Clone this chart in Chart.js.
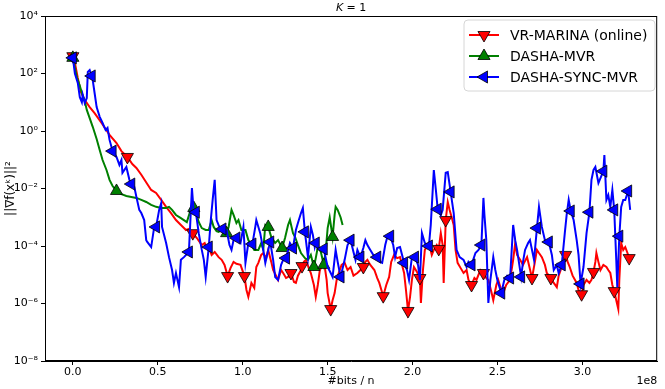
<!DOCTYPE html>
<html>
<head>
<meta charset="utf-8">
<script src="https://cdn.jsdelivr.net/npm/chart.js"></script>
<style>
  html, body { margin: 0; padding: 0; background: #fff; }
  #wrap { width: 665px; height: 389px; }
</style>
</head>
<body>
<div id="wrap"><canvas id="chart" width="665" height="389"></canvas></div>
<script>
// axis ticks (x in units of 1e8 bits / n)
const xTicks = [0, 0.5, 1.0, 1.5, 2.0, 2.5, 3.0];
const yTicks = [1e-8, 1e-6, 1e-4, 1e-2, 1e0, 1e2, 1e4];
const yTickLabels = ['10⁻⁸', '10⁻⁶', '10⁻⁴', '10⁻²', '10⁰', '10²', '10⁴'];
const seriesNames = ['VR-MARINA (online)', 'DASHA-MVR', 'DASHA-SYNC-MVR'];

// VR-MARINA (online)
const redX = [0, 0.012, 0.029, 0.047, 0.070, 0.099, 0.128, 0.169, 0.216, 0.257, 0.286, 0.321, 0.350, 0.374, 0.403, 0.438, 0.461, 0.490, 0.520, 0.549,
  0.578, 0.607, 0.636, 0.666, 0.683, 0.706, 0.730, 0.759, 0.776, 0.788, 0.806, 0.817, 0.835, 0.858, 0.876, 0.893, 0.911, 0.928, 0.946, 0.963,
  0.987, 1.010, 1.022, 1.033, 1.051, 1.068, 1.080, 1.092, 1.109, 1.121, 1.138, 1.150, 1.168, 1.179, 1.197, 1.208, 1.226, 1.238, 1.255, 1.267,
  1.284, 1.302, 1.313, 1.325, 1.343, 1.349, 1.360, 1.372, 1.389, 1.401, 1.419, 1.430, 1.442, 1.454, 1.471, 1.483, 1.494, 1.500, 1.518, 1.529,
  1.541, 1.553, 1.565, 1.582, 1.600, 1.617, 1.635, 1.652, 1.675, 1.693, 1.710, 1.722, 1.734, 1.751, 1.775, 1.792, 1.804, 1.827, 1.845, 1.862,
  1.874, 1.891, 1.909, 1.926, 1.938, 1.950, 1.961, 1.973, 1.985, 1.996, 2.008, 2.026, 2.043, 2.049, 2.061, 2.072, 2.096, 2.113, 2.125, 2.142,
  2.154, 2.166, 2.177, 2.183, 2.195, 2.207, 2.218, 2.230, 2.242, 2.253, 2.265, 2.283, 2.300, 2.318, 2.329, 2.347, 2.364, 2.376, 2.399, 2.417,
  2.434, 2.446, 2.464, 2.475, 2.493, 2.504, 2.522, 2.534, 2.551, 2.574, 2.592, 2.604, 2.615, 2.633, 2.650, 2.674, 2.685, 2.703, 2.720, 2.732,
  2.744, 2.761, 2.779, 2.790, 2.814, 2.831, 2.849, 2.860, 2.878, 2.901, 2.913, 2.925, 2.942, 2.966, 2.977, 2.995, 3.006, 3.024, 3.041, 3.053,
  3.065, 3.076, 3.082, 3.094, 3.106, 3.123, 3.141, 3.152, 3.164, 3.176, 3.187, 3.199, 3.211, 3.217, 3.228, 3.240, 3.252, 3.263, 3.275];
const redY = [400, 230, 70, 23, 12, 6.8, 4.2, 1.9, 0.73, 0.38, 0.20, 0.125, 0.071, 0.052, 0.030, 0.0143, 0.0089, 0.0070, 0.0040, 0.0023,
  0.0014, 8e-4, 5.4e-4, 3.6e-4, 3.9e-4, 2.8e-4, 1.9e-4, 1.08e-4, 1.27e-4, 8.5e-5, 7.3e-5, 4.9e-5, 6.2e-5, 4.1e-5, 3.3e-5, 2.2e-5, 9e-6, 1.7e-5, 2.8e-5, 2.4e-5,
  2.2e-5, 9e-6, 2.95e-6, 1.7e-6, 5.2e-6, 3.5e-6, 1.86e-5, 2.6e-5, 4.9e-5, 5.7e-5, 3.8e-5, 7.3e-5, 2.8e-5, 1.46e-5, 9e-6, 6.6e-6, 1.46e-5, 1.15e-5, 7.7e-6, 8.4e-6,
  1.15e-5, 5.6e-6, 5.2e-6, 9.3e-6, 1.46e-5, 2e-5, 2.8e-5, 3.3e-5, 1.7e-5, 1.15e-5, 4.4e-6, 1.7e-6, 4.4e-6, 1.46e-5, 2.2e-5, 1.86e-5, 6.6e-6, 2.3e-6, 6.4e-7, 1.3e-6,
  2.3e-6, 6.6e-6, 1.15e-5, 2.2e-5, 2.6e-5, 1.46e-5, 1.86e-5, 9.3e-6, 1.15e-5, 1.46e-5, 1.86e-5, 2.8e-5, 3.3e-5, 2.2e-5, 1.46e-5, 7.7e-6, 5.2e-6, 1.8e-6, 4.4e-6, 8.4e-6,
  2.8e-5, 4.9e-5, 3.8e-5, 4.1e-5, 2.2e-5, 1.15e-5, 2.95e-6, 5.5e-7, 1.7e-6, 6.6e-6, 1.86e-5, 1.25e-5, 7.7e-6, 1.04e-6, 1.46e-5, 7.3e-5, 1.27e-4, 4.9e-5, 7.3e-5, 1.08e-4,
  7.9e-5, 2.8e-4, 1.08e-4, 5.2e-6, 8e-4, 3.4e-3, 1.8e-3, 1e-3, 5.4e-4, 7.3e-5, 2.6e-5, 1.7e-5, 1.15e-5, 1.46e-5, 6.6e-6, 4.4e-6, 7.7e-6, 6.6e-6, 1.46e-5, 1.15e-5,
  7.7e-6, 6.6e-6, 2.5e-6, 1.3e-6, 4.4e-6, 6.6e-6, 2.95e-6, 2.3e-6, 4.4e-6, 6.6e-6, 3.3e-5, 1.27e-4, 4.9e-5, 3.3e-5, 2.2e-5, 4.1e-5, 2.2e-5, 7.7e-6, 2.8e-5, 7.3e-5,
  5.7e-5, 4.1e-5, 2.2e-5, 1.15e-5, 7.7e-6, 5.2e-6, 3.7e-6, 9.3e-6, 1.86e-5, 4.9e-5, 2.8e-5, 1.86e-5, 9.3e-6, 5.2e-6, 2.95e-6, 2.1e-6, 4.4e-6, 6.6e-6, 5.2e-6, 6.6e-6,
  1.25e-5, 2.8e-5, 5.7e-5, 2.8e-5, 1.46e-5, 2.2e-5, 1.86e-5, 1.46e-5, 1.15e-5, 4.4e-6, 2.7e-6, 1.3e-6, 6.4e-7, 6.6e-6, 1.27e-4, 7.3e-5, 9.2e-5, 6.2e-5, 3.8e-5];
const redMarkX = [0, 0.321, 0.706, 0.911, 1.010, 1.284, 1.349, 1.518, 1.710, 1.827, 1.973, 2.043, 2.154, 2.195, 2.347, 2.417,
  2.703, 2.814, 2.901, 2.995, 3.065, 3.187, 3.275];

// DASHA-MVR
const greenX = [0, 0.023, 0.041, 0.053, 0.070, 0.082, 0.099, 0.117, 0.140, 0.158, 0.175, 0.198, 0.216, 0.234, 0.257, 0.286, 0.315, 0.344, 0.374, 0.403,
  0.432, 0.461, 0.490, 0.520, 0.549, 0.566, 0.584, 0.607, 0.636, 0.671, 0.689, 0.701, 0.712, 0.724, 0.741, 0.759, 0.782, 0.800, 0.817, 0.829,
  0.846, 0.858, 0.876, 0.905, 0.917, 0.934, 0.946, 0.963, 0.975, 0.992, 1.016, 1.033, 1.051, 1.068, 1.092, 1.109, 1.121, 1.133, 1.150, 1.168,
  1.191, 1.208, 1.232, 1.249, 1.267, 1.278, 1.296, 1.308, 1.325, 1.343, 1.366, 1.384, 1.401, 1.419, 1.430, 1.442, 1.460, 1.477, 1.489, 1.500,
  1.512, 1.529, 1.541, 1.547, 1.559, 1.576, 1.588];
const greenY = [350, 75, 37, 21, 11, 5.4, 2.8, 1.4, 0.53, 0.22, 0.098, 0.044, 0.020, 0.0122, 0.0082, 0.0064, 0.0055, 0.0051, 0.0047, 0.0040,
  0.0034, 0.0027, 0.0023, 0.0021, 0.0021, 0.0023, 0.0018, 0.0012, 9.3e-4, 6.8e-4, 0.0015, 0.0031, 0.0021, 0.0015, 6.8e-4, 4.2e-4, 3.6e-4, 3.6e-4, 8e-4, 4.6e-4,
  3.3e-4, 3.1e-4, 3.6e-4, 2.8e-4, 4.6e-4, 0.0018, 0.0012, 6.3e-4, 8e-4, 3.6e-4, 3.6e-4, 1.6e-4, 1.08e-4, 7.3e-5, 7.3e-5, 1.27e-4, 7.3e-5, 5.4e-4, 4.6e-4, 2.06e-4,
  1.27e-4, 1.6e-4, 8.5e-5, 1.9e-4, 5.4e-4, 8e-4, 2.8e-4, 2.06e-4, 1.08e-4, 5.7e-5, 3.8e-5, 3.3e-5, 4.9e-5, 1.86e-5, 3.8e-5, 9.2e-5, 6.2e-5, 2.2e-5, 7.3e-5, 4.2e-4,
  1e-3, 2.06e-4, 1.2e-3, 2.3e-3, 1.8e-3, 1e-3, 5.4e-4];
const greenMarkX = [0, 0.257, 0.712, 0.905, 1.150, 1.232, 1.419, 1.477, 1.529];

// DASHA-SYNC-MVR
const blueX = [0, 0.012, 0.029, 0.041, 0.053, 0.058, 0.070, 0.082, 0.088, 0.099, 0.111, 0.117, 0.128, 0.140, 0.158, 0.175, 0.193, 0.204, 0.216, 0.234,
  0.257, 0.274, 0.286, 0.292, 0.315, 0.333, 0.344, 0.362, 0.374, 0.391, 0.403, 0.420, 0.432, 0.438, 0.461, 0.479, 0.490, 0.508, 0.520, 0.525,
  0.549, 0.566, 0.584, 0.595, 0.607, 0.625, 0.636, 0.654, 0.683, 0.701, 0.712, 0.724, 0.741, 0.759, 0.771, 0.782, 0.800, 0.812, 0.823, 0.835,
  0.846, 0.870, 0.881, 0.905, 0.922, 0.934, 0.946, 0.963, 0.987, 1.004, 1.016, 1.033, 1.045, 1.057, 1.074, 1.080, 1.103, 1.121, 1.133, 1.150,
  1.162, 1.179, 1.191, 1.208, 1.226, 1.238, 1.255, 1.278, 1.296, 1.313, 1.325, 1.343, 1.354, 1.366, 1.384, 1.401, 1.413, 1.424, 1.430, 1.454,
  1.477, 1.500, 1.518, 1.529, 1.547, 1.559, 1.576, 1.600, 1.617, 1.635, 1.652, 1.664, 1.675, 1.693, 1.710, 1.722, 1.734, 1.751, 1.769, 1.792,
  1.810, 1.821, 1.839, 1.851, 1.868, 1.886, 1.897, 1.909, 1.926, 1.950, 1.967, 1.979, 1.996, 2.014, 2.032, 2.043, 2.055, 2.072, 2.096, 2.107,
  2.113, 2.125, 2.137, 2.148, 2.166, 2.177, 2.195, 2.207, 2.224, 2.242, 2.259, 2.277, 2.300, 2.318, 2.329, 2.347, 2.370, 2.388, 2.405, 2.417,
  2.423, 2.434, 2.446, 2.458, 2.475, 2.487, 2.499, 2.522, 2.540, 2.557, 2.574, 2.592, 2.604, 2.615, 2.639, 2.650, 2.662, 2.680, 2.691, 2.715,
  2.732, 2.744, 2.761, 2.779, 2.802, 2.820, 2.831, 2.849, 2.860, 2.878, 2.896, 2.907, 2.919, 2.931, 2.948, 2.966, 2.977, 2.989, 3.006, 3.024,
  3.041, 3.053, 3.065, 3.076, 3.094, 3.106, 3.123, 3.129, 3.141, 3.152, 3.164, 3.176, 3.187, 3.199, 3.205, 3.217, 3.228, 3.240, 3.252, 3.269,
  3.281];
const blueY = [350, 100, 47, 15, 10, 18, 9.4, 14, 113, 132, 82, 59, 21, 6.8, 3.1, 1.9, 1.08, 1.27, 0.49, 0.20,
  0.125, 0.066, 0.098, 0.035, 0.056, 0.020, 0.0143, 0.0113, 0.0051, 0.0018, 0.0014, 8e-4, 1.6e-4, 1.38e-4, 9.2e-5, 4.6e-4, 4.6e-4, 0.0018, 0.0031, 4.6e-4,
  1.27e-4, 4.1e-5, 1.46e-5, 5.2e-6, 1.15e-5, 3.7e-6, 3.3e-5, 4.1e-5, 6.2e-5, 0.0104, 0.0014, 0.0015, 2.8e-4, 7.3e-5, 3.3e-5, 8.4e-6, 9.2e-5, 8e-4, 0.0040, 0.020,
  8e-4, 3.6e-4, 3.9e-4, 3.6e-4, 1.08e-4, 7.3e-5, 1.6e-4, 1.9e-4, 1.27e-4, 4.6e-4, 2.6e-5, 1.27e-4, 1.27e-4, 1.17e-4, 4.6e-4, 8e-4, 2.8e-4, 7.3e-5, 2.6e-5, 7.3e-5,
  1.38e-4, 3.3e-5, 8.4e-6, 6.6e-6, 2.2e-5, 3.3e-5, 3.8e-5, 1.27e-4, 8.5e-5, 3.6e-4, 6.3e-4, 1.4e-3, 2.1e-3, 3.1e-4, 4.1e-5, 4.6e-4, 2.4e-4, 9.2e-5, 1.27e-4, 7.3e-5,
  7.9e-5, 1.86e-5, 1.15e-5, 8.4e-6, 7.3e-5, 2.8e-5, 8.4e-6, 3.3e-5, 1.08e-4, 1.6e-4, 6.2e-5, 3.3e-5, 7.3e-5, 4.1e-5, 8.5e-5, 1.6e-4, 1.08e-4, 7.3e-5, 4.9e-5, 4.1e-5,
  2.8e-5, 2.6e-5, 1.08e-4, 2.06e-4, 2.2e-4, 1.08e-4, 4.1e-5, 8.5e-5, 9.2e-5, 2.6e-5, 1.46e-5, 6.6e-6, 4.1e-5, 4.1e-5, 2.2e-5, 6.6e-6, 2.8e-4, 1.27e-4, 1e-4, 5.4e-4,
  2.3e-3, 0.044, 8.9e-3, 1.9e-3, 1.2e-3, 1.8e-3, 0.035, 0.037, 7.6e-3, 1.4e-3, 7.3e-5, 4.1e-5, 3.3e-5, 1.86e-5, 2.8e-5, 2.2e-5, 5.7e-5, 7.3e-5, 1.08e-4, 4.7e-3,
  1.2e-3, 1.6e-4, 1.04e-6, 6.6e-6, 4.1e-5, 1.46e-5, 6.6e-6, 2.3e-6, 6.6e-6, 9.3e-6, 7.7e-6, 5.4e-4, 1.6e-4, 7.3e-5, 8.4e-6, 2.8e-5, 7.3e-5, 1.27e-4, 1.6e-4, 3.3e-5,
  4.2e-4, 2.3e-3, 4.6e-4, 1.6e-4, 1.38e-4, 4.9e-5, 1.46e-5, 2.2e-5, 1.15e-5, 2.2e-5, 2.8e-4, 1.2e-3, 4e-3, 1.65e-3, 8e-4, 1.6e-4, 4.9e-5, 4.8e-6, 1.86e-5, 2.8e-4,
  1.5e-3, 0.020, 0.044, 0.056, 0.0155, 0.023, 0.040, 0.146, 0.0040, 0.0059, 0.0023, 0.0089, 0.0018, 3.3e-5, 3.7e-6, 2.2e-4, 2.3e-3, 4e-3, 4e-3, 8.2e-3,
  1.8e-3];
const blueMarkX = [0, 0.111, 0.234, 0.344, 0.490, 0.683, 0.724, 0.800, 0.881, 0.963, 1.057, 1.162, 1.255, 1.296, 1.366, 1.430, 1.477,
  1.576, 1.635, 1.693, 1.792, 1.868, 1.950, 2.014, 2.096, 2.148, 2.224, 2.347, 2.405, 2.522, 2.574, 2.639, 2.732, 2.802, 2.878, 2.931,
  2.989, 3.041, 3.123, 3.187, 3.217, 3.269];

const FONT = 'DejaVu Sans';
const MARK_R = 7;

function makeSet(label, xs, ys, marks, color, rotation, order) {
  return {
    label,
    data: xs.map((x, i) => ({ x, y: ys[i] })),
    borderColor: color,
    backgroundColor: color,
    borderWidth: 2,
    tension: 0,
    order,
    pointStyle: 'triangle',
    rotation,
    pointRadius: c => marks.includes(xs[c.dataIndex]) ? MARK_R : 0,
    pointHoverRadius: 0,
    pointBackgroundColor: color,
    pointBorderColor: '#000',
    pointBorderWidth: 0.8
  };
}

const legendItems = [
  { color: '#ff0000', rotation: 180 },
  { color: '#008000', rotation: 0 },
  { color: '#0000ff', rotation: 270 }
];

// triangle like Chart.js draws it, for the legend handles
function drawTri(ctx, x, y, r, rotation, fill) {
  let rad = rotation * Math.PI / 180;
  ctx.beginPath();
  for (let k = 0; k < 3; k++) {
    const px = x + Math.sin(rad) * r;
    const py = y - Math.cos(rad) * r;
    if (k === 0) ctx.moveTo(px, py); else ctx.lineTo(px, py);
    rad += 2 * Math.PI / 3;
  }
  ctx.closePath();
  ctx.fillStyle = fill;
  ctx.fill();
  ctx.lineWidth = 0.8;
  ctx.strokeStyle = '#000';
  ctx.stroke();
}

const framePlugin = {
  id: 'frame',
  afterDatasetsDraw(chart) {
    const { ctx, chartArea: a } = chart;
    ctx.save();
    ctx.strokeStyle = '#000';
    ctx.lineWidth = 1;
    ctx.strokeRect(a.left + 0.5, a.top + 0.5, a.right - a.left - 1, a.bottom - a.top - 1);
    ctx.restore();
  },
  afterDraw(chart) {
    const { ctx, chartArea: a } = chart;
    ctx.save();
    ctx.fillStyle = '#000';
    // title
    ctx.textBaseline = 'middle';
    ctx.font = 'italic 11px ' + FONT;
    const kW = ctx.measureText('K').width;
    ctx.font = '11px ' + FONT;
    const restW = ctx.measureText(' = 1').width;
    const cx = (a.left + a.right) / 2;
    const startX = cx - (kW + restW) / 2;
    ctx.textAlign = 'left';
    ctx.font = 'italic 11px ' + FONT;
    ctx.fillText('K', startX, 8);
    ctx.font = '11px ' + FONT;
    ctx.fillText(' = 1', startX + kW, 8);
    // x axis title and offset text
    ctx.textAlign = 'center';
    ctx.fillText('#bits / n', cx, 381);
    ctx.textAlign = 'right';
    ctx.fillText('1e8', a.right, 381);
    // y axis title
    ctx.translate(11, (a.top + a.bottom) / 2);
    ctx.rotate(-Math.PI / 2);
    ctx.textAlign = 'center';
    ctx.font = '12px ' + FONT;
    ctx.fillText('||∇f(xᵏ)||²', 0, 0);
    ctx.restore();

    // legend box in the upper right corner
    ctx.save();
    const bx = 464, by = 20, bw = 191, bh = 71, r = 4;
    ctx.beginPath();
    ctx.moveTo(bx + r, by);
    ctx.arcTo(bx + bw, by, bx + bw, by + bh, r);
    ctx.arcTo(bx + bw, by + bh, bx, by + bh, r);
    ctx.arcTo(bx, by + bh, bx, by, r);
    ctx.arcTo(bx, by, bx + bw, by, r);
    ctx.closePath();
    ctx.fillStyle = 'rgba(255,255,255,0.8)';
    ctx.fill();
    ctx.strokeStyle = '#d6d6d6';
    ctx.lineWidth = 1;
    ctx.stroke();
    ctx.font = '14px ' + FONT;
    ctx.textAlign = 'left';
    ctx.textBaseline = 'middle';
    seriesNames.forEach((name, i) => {
      const y = 35 + i * 21;
      const it = legendItems[i];
      ctx.strokeStyle = it.color;
      ctx.lineWidth = 2;
      ctx.beginPath();
      ctx.moveTo(469, y);
      ctx.lineTo(499, y);
      ctx.stroke();
      drawTri(ctx, 484, y, MARK_R, it.rotation, it.color);
      ctx.fillStyle = '#000';
      ctx.fillText(name, 510, y + 1);
    });
    ctx.restore();
  }
};

new Chart(document.getElementById('chart'), {
  type: 'line',
  data: {
    datasets: [
      makeSet(seriesNames[0], redX, redY, redMarkX, '#ff0000', 180, 3),
      makeSet(seriesNames[1], greenX, greenY, greenMarkX, '#008000', 0, 2),
      makeSet(seriesNames[2], blueX, blueY, blueMarkX, '#0000ff', 270, 1)
    ]
  },
  options: {
    responsive: false,
    animation: false,
    devicePixelRatio: 1,
    layout: { padding: { top: 16, right: 3, left: 0, bottom: 0 } },
    plugins: {
      legend: { display: false },
      tooltip: { enabled: false },
      title: { display: false }
    },
    scales: {
      x: {
        type: 'linear',
        min: -0.164,
        max: 3.44,
        afterBuildTicks: s => { s.ticks = xTicks.map(v => ({ value: v })); },
        afterFit: s => { s.height = 28; },
        ticks: {
          callback: v => v.toFixed(1),
          color: '#000',
          font: { family: FONT, size: 11 },
          padding: 1,
          maxRotation: 0
        },
        grid: { drawOnChartArea: false, drawTicks: true, tickLength: 4, color: '#000' },
        border: { display: true, color: '#000' }
      },
      y: {
        type: 'logarithmic',
        min: 1e-8,
        max: 1e4,
        afterBuildTicks: s => { s.ticks = yTicks.map(v => ({ value: v })); },
        afterFit: s => { s.width = 45; },
        ticks: {
          callback: (v, i) => yTickLabels[i],
          color: '#000',
          font: { family: FONT, size: 11 },
          padding: 3
        },
        grid: { drawOnChartArea: false, drawTicks: true, tickLength: 4, color: '#000' },
        border: { display: true, color: '#000' }
      }
    }
  },
  plugins: [framePlugin]
});
</script>
</body>
</html>
